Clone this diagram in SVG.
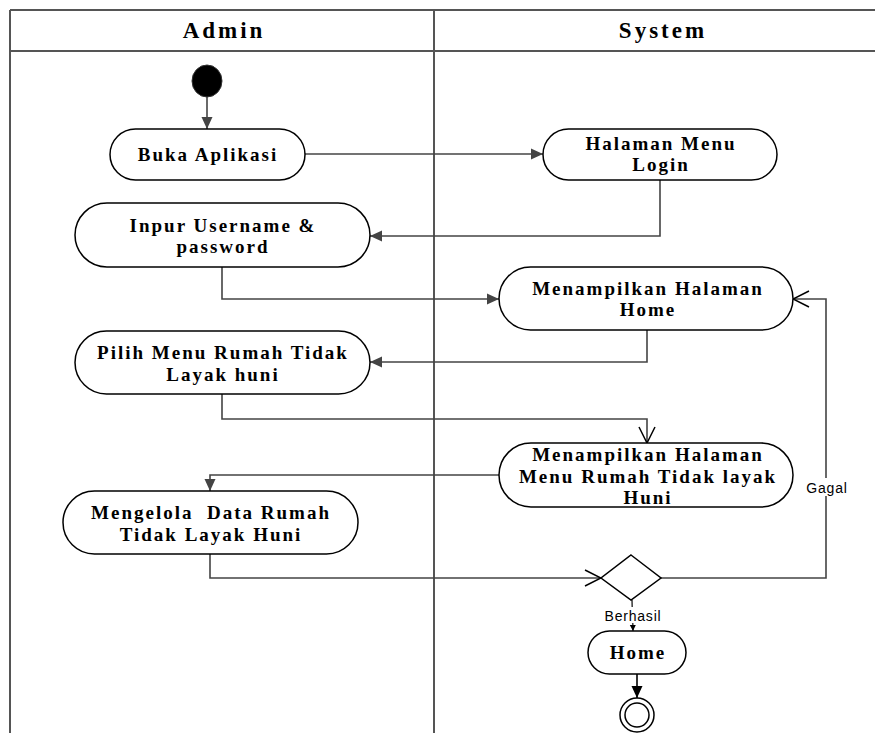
<svg xmlns="http://www.w3.org/2000/svg" width="875" height="733" viewBox="0 0 875 733">
<style>
.lane{stroke:#555;stroke-width:2;fill:none}
.hdr{font-family:"Liberation Serif",serif;font-weight:bold;font-size:23px;letter-spacing:3px;fill:#000;text-anchor:middle}
.node{fill:#fff;stroke:#000;stroke-width:1.5}
.t{font-family:"Liberation Serif",serif;font-weight:bold;font-size:19px;letter-spacing:2px;fill:#000;text-anchor:middle}
.c{stroke:#444;stroke-width:1.6;fill:none}
.lbl{font-family:"Liberation Sans",sans-serif;font-size:14px;letter-spacing:0.8px;fill:#000;text-anchor:middle}
</style>
<defs>
<marker id="fa" markerUnits="userSpaceOnUse" markerWidth="14" markerHeight="14" viewBox="0 0 14 14" refX="13" refY="7" orient="auto">
<path d="M1,1.5 L13,7 L1,12.5 Z" fill="#444"/>
</marker>
<marker id="fb" markerUnits="userSpaceOnUse" markerWidth="14" markerHeight="14" viewBox="0 0 14 14" refX="13" refY="7" orient="auto">
<path d="M1,1.5 L13,7 L1,12.5 Z" fill="#000"/>
</marker>
<marker id="oa" markerUnits="userSpaceOnUse" markerWidth="18" markerHeight="20" viewBox="0 0 18 20" refX="17" refY="10" orient="auto">
<path d="M1,2 L17,10 L1,18" fill="none" stroke="#000" stroke-width="1.5"/>
</marker>
<marker id="sa" markerUnits="userSpaceOnUse" markerWidth="8" markerHeight="8" viewBox="0 0 8 8" refX="7" refY="4" orient="auto">
<path d="M1,1 L7,4 L1,7 Z" fill="#000"/>
</marker>
</defs>
<rect width="875" height="733" fill="#fff"/>
<g id="swimlanes">
<line class="lane" x1="10" y1="10" x2="875" y2="10"/>
<line class="lane" x1="10" y1="51" x2="875" y2="51"/>
<line class="lane" x1="10" y1="10" x2="10" y2="733"/>
<line class="lane" x1="434" y1="10" x2="434" y2="733"/>
<text class="hdr" x="224" y="38">Admin</text>
<text class="hdr" x="663" y="38">System</text>
</g>
<g id="connectors">
<line class="c" x1="207" y1="96" x2="207" y2="129" marker-end="url(#fa)"/>
<line class="c" x1="305" y1="154" x2="543" y2="154" marker-end="url(#fa)"/>
<polyline class="c" points="660,180 660,236 370,236" marker-end="url(#fa)"/>
<polyline class="c" points="222,267 222,299 499,299" marker-end="url(#fa)"/>
<polyline class="c" points="647,330 647,362 370,362" marker-end="url(#fa)"/>
<polyline class="c" points="222,394 222,419 647,419 647,443" marker-end="url(#oa)"/>
<polyline class="c" points="499,475 210,475 210,491" marker-end="url(#fa)"/>
<polyline class="c" points="210,554 210,578 601,578" marker-end="url(#oa)"/>
<polyline class="c" points="661,578 826,578 826,299 793,299" marker-end="url(#oa)"/>
<line class="c" x1="632" y1="600" x2="633" y2="631" stroke="#000" marker-end="url(#sa)"/>
<line class="c" x1="637" y1="674" x2="637" y2="698" style="stroke:#000" marker-end="url(#fb)"/>
<rect x="805" y="478" width="44" height="18" fill="#fff"/>
<text class="lbl" x="827" y="493">Gagal</text>
<rect x="601" y="607" width="64" height="16" fill="#fff"/>
<text class="lbl" x="633" y="621">Berhasil</text>
</g>
<g id="start"><ellipse cx="207" cy="81" rx="15" ry="16" fill="#000" stroke="#333"/></g>
<g id="buka">
<rect class="node" x="110" y="129" width="195" height="51" rx="25.5"/>
<text class="t" x="208" y="161">Buka Aplikasi</text>
</g>
<g id="login">
<rect class="node" x="543" y="129" width="234" height="51" rx="25.5"/>
<text class="t" x="661" y="150">Halaman Menu</text>
<text class="t" x="661" y="171">Login</text>
</g>
<g id="inpur">
<rect class="node" x="75" y="203" width="295" height="64" rx="32"/>
<text class="t" x="223" y="232">Inpur Username &amp;</text>
<text class="t" x="223" y="253">password</text>
</g>
<g id="home1">
<rect class="node" x="499" y="267" width="294" height="63" rx="31.5"/>
<text class="t" x="648" y="295">Menampilkan Halaman</text>
<text class="t" x="648" y="316">Home</text>
</g>
<g id="pilih">
<rect class="node" x="75" y="331" width="295" height="63" rx="31.5"/>
<text class="t" x="223" y="359">Pilih Menu Rumah Tidak</text>
<text class="t" x="223" y="381">Layak huni</text>
</g>
<g id="menurumah">
<rect class="node" x="499" y="443" width="294" height="64" rx="32"/>
<text class="t" x="648" y="461">Menampilkan Halaman</text>
<text class="t" x="648" y="483">Menu Rumah Tidak layak</text>
<text class="t" x="648" y="504">Huni</text>
</g>
<g id="mengelola">
<rect class="node" x="63" y="491" width="295" height="63" rx="31.5"/>
<text class="t" x="211" y="519" xml:space="preserve">Mengelola  Data Rumah</text>
<text class="t" x="211" y="541">Tidak Layak Huni</text>
</g>
<g id="decision"><polygon class="node" points="631,555 661,578 631,600 601,578"/></g>
<g id="home2">
<rect class="node" x="588" y="631" width="98" height="43" rx="21.5"/>
<text class="t" x="638" y="659">Home</text>
</g>
<g id="end">
<circle cx="637" cy="715" r="17" fill="#fff" stroke="#000" stroke-width="1.5"/>
<circle cx="637" cy="715" r="12" fill="#fff" stroke="#000" stroke-width="1.5"/>
</g>
</svg>
